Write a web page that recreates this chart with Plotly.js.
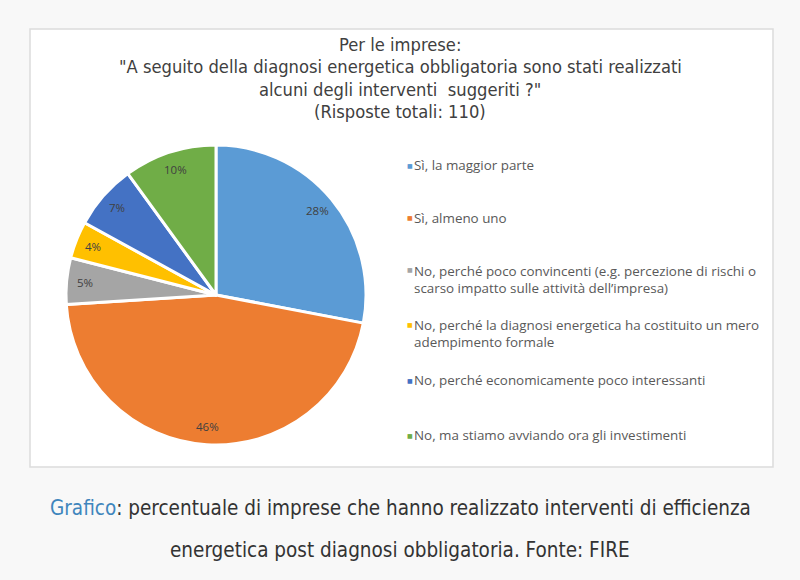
<!DOCTYPE html>
<html><head><meta charset="utf-8">
<script src="https://cdn.plot.ly/plotly-3.0.1.min.js"></script>
<style>html,body{margin:0;padding:0;background:#f8f8f8;}#chart{width:800px;height:580px;}</style>
</head><body><div id="chart"></div>
<script>
const categories = [
  "Sì, la maggior parte",
  "Sì, almeno uno",
  "No, perché poco convincenti (e.g. percezione di rischi o<br>scarso impatto sulle attività dell’impresa)",
  "No, perché la diagnosi energetica ha costituito un mero<br>adempimento formale",
  "No, perché economicamente poco interessanti",
  "No, ma stiamo avviando ora gli investimenti"
];
const values = [28, 46, 5, 4, 7, 10];
const colors = ["#5B9BD5", "#ED7D31", "#A5A5A5", "#FFC000", "#4472C4", "#70AD47"];
const titleLines = [
  "Per le imprese:",
  "\"A seguito della diagnosi energetica obbligatoria sono stati realizzati",
  "alcuni degli interventi  suggeriti ?\"",
  "(Risposte totali: 110)"
];
const captionLines = [
  "<span style='color:#3f86bd'>Grafico</span>: percentuale di imprese che hanno realizzato interventi di efficienza",
  "energetica post diagnosi obbligatoria. Fonte: FIRE"
];

const W = 800, H = 580;
const dom = {x: [66/W, 366/W], y: [1 - 445/H, 1 - 145/H]};
const cxp = (dom.x[0] + dom.x[1]) / 2 * W;
const cyp = (1 - (dom.y[0] + dom.y[1]) / 2) * H;
const rp = (dom.x[1] - dom.x[0]) * W / 2;

const total = values.reduce((a, b) => a + b, 0);
const annotations = [];
let cum = 0;
values.forEach((v, i) => {
  const mid = (cum + v / 2) / total * 2 * Math.PI;
  cum += v;
  const px = cxp + 0.88 * rp * Math.sin(mid);
  const py = cyp - 0.88 * rp * Math.cos(mid);
  annotations.push({x: px / W, y: 1 - py / H, xref: 'paper', yref: 'paper', showarrow: false,
    text: Math.round(v / total * 100) + '%', font: {family: 'Open Sans, Liberation Sans, sans-serif', size: 11.5, color: '#404040'},
    xanchor: 'center', yanchor: 'middle'});
});

// legend rows (layout positions)
const legY = [165, 218, 279.5, 333.5, 380, 435];
categories.forEach((c, i) => {
  const lines = c.split('<br>').length;
  const firstY = legY[i] - (lines - 1) * 9.5;
  annotations.push({x: 405 / W, y: 1 - firstY / H, xref: 'paper', yref: 'paper', showarrow: false,
    text: '■', font: {family: 'DejaVu Sans, sans-serif', size: 6, color: colors[i]}, xanchor: 'left', yanchor: 'middle'});
  annotations.push({x: 412 / W, y: 1 - legY[i] / H, xref: 'paper', yref: 'paper', showarrow: false,
    text: c, align: 'left', font: {family: 'Open Sans, Liberation Sans, sans-serif', size: 13.4, color: '#595959'},
    xanchor: 'left', yanchor: 'middle'});
});

// title lines
const titleY = [44, 67, 90, 112];
titleLines.forEach((t, i) => {
  annotations.push({x: 0.5, y: 1 - titleY[i] / H, xref: 'paper', yref: 'paper', showarrow: false,
    text: t, font: {family: 'DejaVu Sans Condensed, sans-serif', size: 18.2, color: '#404040'},
    xanchor: 'center', yanchor: 'middle'});
});
// caption lines
const capY = [508, 550];
captionLines.forEach((t, i) => {
  annotations.push({x: 0.5, y: 1 - capY[i] / H, xref: 'paper', yref: 'paper', showarrow: false,
    text: t, font: {family: 'DejaVu Sans Condensed, sans-serif', size: 20.5, color: '#333333'},
    xanchor: 'center', yanchor: 'middle'});
});

const data = [{
  type: 'pie', labels: categories, values: values, sort: false, direction: 'clockwise', rotation: 0,
  marker: {colors: colors, line: {color: '#ffffff', width: 3}},
  textinfo: 'none', hoverinfo: 'label+percent', domain: dom, showlegend: false
}];

const layout = {
  width: W, height: H, margin: {l: 0, r: 0, t: 0, b: 0},
  paper_bgcolor: '#f8f8f8', showlegend: false,
  shapes: [{type: 'rect', xref: 'paper', yref: 'paper', x0: 30 / W, x1: 773 / W, y0: 1 - 467 / H, y1: 1 - 29 / H,
    fillcolor: '#ffffff', line: {color: '#dcdcdc', width: 1.5}, layer: 'below'}],
  annotations: annotations
};
Plotly.newPlot('chart', data, layout, {displayModeBar: false, staticPlot: true});
</script></body></html>
